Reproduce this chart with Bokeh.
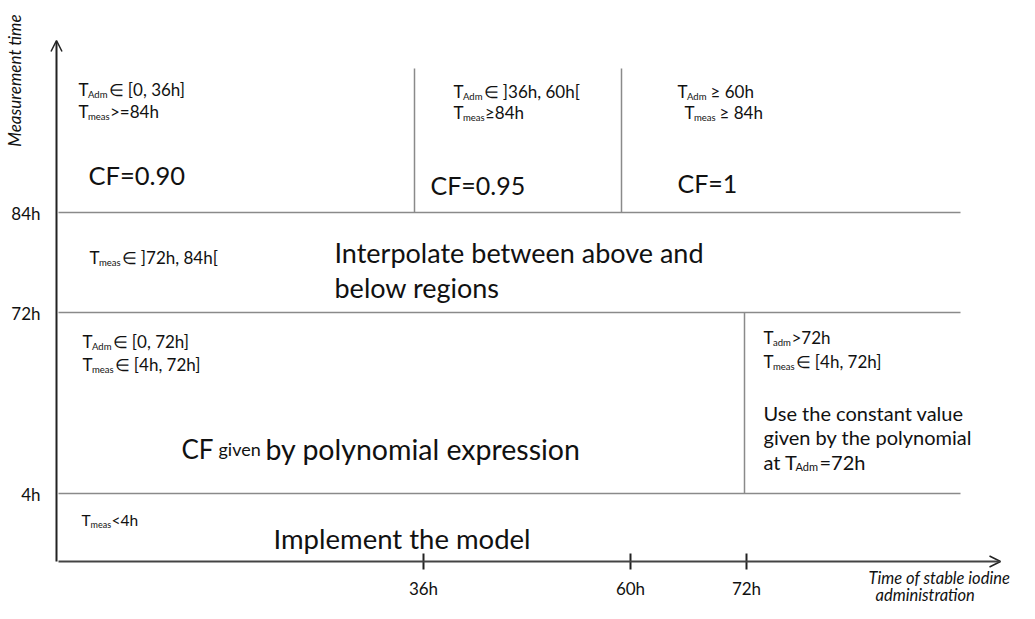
from math import pi
from bokeh.plotting import figure
from bokeh.models import Range1d, Label, Arrow, OpenHead
from bokeh.embed import file_html
from bokeh.resources import INLINE

FONT = "Lato"
INK = "#111111"
AXIS = "#222222"
GRID = "#8a8a8a"

# ---- schematic data (diagram is not to scale; positions are page pixels) ----
x_tick_labels = ["36h", "60h", "72h"]
x_tick_pos = [423, 630, 746]
y_tick_labels = ["84h", "72h", "4h"]
y_tick_pos = [212, 312, 493]

origin = (56, 561)
x_axis_end = 1000
y_axis_end = 40

h_bound_x0 = [58, 58, 58]
h_bound_x1 = [960, 960, 960]
v_bound_x = [414, 621, 744]
v_bound_y0 = [68, 68, 312]
v_bound_y1 = [212, 212, 493]

S = 17      # small label size
SUB = 9.5   # subscript size

# label segments: (x, y, text, size_px, kind)
# kind: n = normal (y is centre), s = subscript (y is centre of parent line),
#       b = normal with y as alphabetic baseline, i = italic
segments = [
    # top-left region
    (78, 89, "T", S, "n"), (87.5, 89, "Adm", SUB, "s"), (108, 89, "\u2208 [0, 36h]", S, "n"),
    (78, 111, "T", S, "n"), (87.5, 111, "meas", SUB, "s"), (109.5, 111, ">=84h", S, "n"),
    (88, 174, "CF=0.90", 25.5, "n"),
    # top-middle region
    (453, 91, "T", S, "n"), (462.5, 91, "Adm", SUB, "s"), (483, 91, "\u2208 ]36h, 60h[", S, "n"),
    (453, 112, "T", S, "n"), (462.5, 112, "meas", SUB, "s"), (484.5, 112, "\u226584h", S, "n"),
    (430, 184, "CF=0.95", 25, "n"),
    # top-right region
    (677, 91, "T", S, "n"), (686.5, 91, "Adm", SUB, "s"), (710, 91, "\u2265 60h", S, "n"),
    (684, 112, "T", S, "n"), (693.5, 112, "meas", SUB, "s"), (719, 112, "\u2265 84h", S, "n"),
    (677, 182, "CF=1", 25, "n"),
    # interpolation band
    (89, 257, "T", S, "n"), (98.5, 257, "meas", SUB, "s"), (121, 257, "\u2208 ]72h, 84h[", S, "n"),
    (334, 252, "Interpolate between above and", 27, "n"),
    (334, 287, "below regions", 27, "n"),
    # polynomial band, left
    (82, 341, "T", S, "n"), (91.5, 341, "Adm", SUB, "s"), (112, 341, "\u2208 [0, 72h]", S, "n"),
    (82, 364, "T", S, "n"), (91.5, 364, "meas", SUB, "s"), (114, 364, "\u2208 [4h, 72h]", S, "n"),
    (181, 448, "CF", 26, "b"), (218, 448, "given", 18, "b"), (265, 448, "by polynomial expression", 28.5, "b"),
    # polynomial band, right
    (763, 337, "T", S, "n"), (772.5, 337, "adm", SUB, "s"), (791, 337, ">72h", S, "n"),
    (763, 361, "T", S, "n"), (772.5, 361, "meas", SUB, "s"), (795, 361, "\u2208 [4h, 72h]", S, "n"),
    (763, 412, "Use the constant value", 20, "n"),
    (763, 436, "given by the polynomial", 20, "n"),
    (763, 461, "at T", 20, "n"), (795, 461, "Adm", 11, "s"), (819, 461, "=72h", 20, "n"),
    # bottom band
    (81, 519, "T", 15.5, "n"), (90, 519, "meas", 9, "s"), (111, 519, "<4h", 15.5, "n"),
    (273, 538, "Implement the model", 27.5, "n"),
    # x axis title
    (868, 577, "Time of stable iodine", 16.5, "i"),
    (875, 594, "administration", 16.5, "i"),
]
y_title = "Measurement time"

p = figure(width=1019, height=603, x_range=Range1d(0, 1019), y_range=Range1d(603, 0),
           output_backend="svg", toolbar_location=None, min_border=0,
           x_axis_type=None, y_axis_type=None)
p.grid.visible = False
p.outline_line_color = None
p.background_fill_color = "white"

# region boundaries
p.segment(x0=h_bound_x0, y0=y_tick_pos, x1=h_bound_x1, y1=y_tick_pos,
          line_color=GRID, line_width=1.5)
p.segment(x0=v_bound_x, y0=v_bound_y0, x1=v_bound_x, y1=v_bound_y1,
          line_color=GRID, line_width=1.5)

# axes with arrows
p.add_layout(Arrow(end=OpenHead(size=11, line_width=1.5, line_color=AXIS),
                   x_start=origin[0], y_start=origin[1], x_end=origin[0], y_end=y_axis_end,
                   line_color=AXIS, line_width=2))
p.add_layout(Arrow(end=OpenHead(size=11, line_width=1.5, line_color=AXIS),
                   x_start=origin[0] + 2, y_start=origin[1], x_end=x_axis_end, y_end=origin[1],
                   line_color="#444444", line_width=2))

# x ticks
p.segment(x0=x_tick_pos, y0=[origin[1] - 8] * 3, x1=x_tick_pos, y1=[origin[1] + 8] * 3,
          line_color=AXIS, line_width=2)
for xp, lab in zip(x_tick_pos, x_tick_labels):
    p.add_layout(Label(x=xp, y=588, text=lab, text_font=FONT, text_font_size="17px",
                       text_color=INK, text_align="center", text_baseline="middle"))
for yp, lab in zip(y_tick_pos, y_tick_labels):
    p.add_layout(Label(x=40, y=yp + 1, text=lab, text_font=FONT, text_font_size="17px",
                       text_color=INK, text_align="right", text_baseline="middle"))

for x, y, t, s, kind in segments:
    yy = y + 4.5 if kind == "s" else y
    p.add_layout(Label(x=x, y=yy, text=t, text_font=FONT, text_font_size=f"{s}px",
                       text_font_style="italic" if kind == "i" else "normal",
                       text_color=INK, text_align="left",
                       text_baseline="alphabetic" if kind == "b" else "middle"))

p.add_layout(Label(x=14, y=80, text=y_title, text_font=FONT, text_font_size="17px",
                   text_font_style="italic", text_color=INK, angle=pi / 2,
                   text_align="center", text_baseline="middle"))

open("out.html", "w").write(file_html(p, INLINE))
